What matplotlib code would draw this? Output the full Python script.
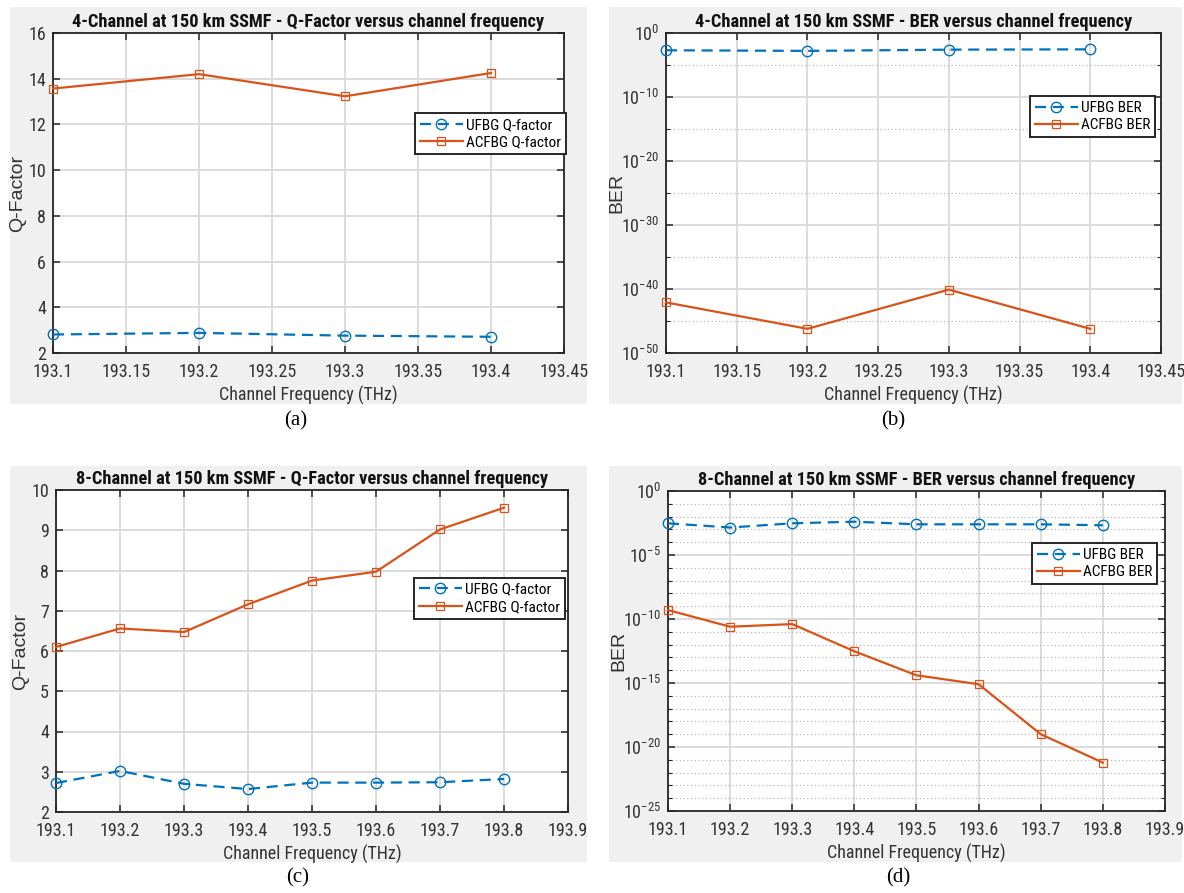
import matplotlib
matplotlib.use("Agg")
import matplotlib.pyplot as plt
from matplotlib import font_manager as fm
from matplotlib.patches import Rectangle
from matplotlib.textpath import TextToPath
from matplotlib.ticker import FixedLocator, NullFormatter, FixedFormatter


# ---------------------------------------------------------------------------
# Data
# ---------------------------------------------------------------------------

freq_4ch = [193.1, 193.2, 193.3, 193.4]
q_ufbg_4ch = [2.81, 2.88, 2.76, 2.71]
q_acfbg_4ch = [13.57, 14.20, 13.23, 14.25]
ber_ufbg_4ch = [2.0e-3, 1.6e-3, 2.5e-3, 2.8e-3]
ber_acfbg_4ch = [8e-43, 6e-47, 8e-41, 6e-47]

freq_8ch = [193.1, 193.2, 193.3, 193.4, 193.5, 193.6, 193.7, 193.8]
q_ufbg_8ch = [2.72, 3.02, 2.70, 2.57, 2.73, 2.73, 2.74, 2.82]
q_acfbg_8ch = [6.10, 6.56, 6.47, 7.16, 7.75, 7.97, 9.02, 9.56]
ber_ufbg_8ch = [3.0e-3, 1.4e-3, 3.0e-3, 4.0e-3, 2.5e-3, 2.5e-3, 2.5e-3, 2.1e-3]
ber_acfbg_8ch = [5e-10, 2.5e-11, 4e-11, 3e-13, 4e-15, 8e-16, 1e-19, 6e-22]

xticks_4ch = [193.1, 193.15, 193.2, 193.25, 193.3, 193.35, 193.4, 193.45]
xticks_8ch = [193.1, 193.2, 193.3, 193.4, 193.5, 193.6, 193.7, 193.8, 193.9]
qticks_4ch = [2, 4, 6, 8, 10, 12, 14, 16]
qticks_8ch = [2, 3, 4, 5, 6, 7, 8, 9, 10]
ber_exp_4ch = [0, -10, -20, -30, -40, -50]
ber_exp_8ch = [0, -5, -10, -15, -20, -25]

titles = [
    "4-Channel at 150 km SSMF - Q-Factor versus channel frequency",
    "4-Channel at 150 km SSMF - BER versus channel frequency",
    "8-Channel at 150 km SSMF - Q-Factor versus channel frequency",
    "8-Channel at 150 km SSMF - BER versus channel frequency",
]
captions = ["(a)", "(b)", "(c)", "(d)"]


# ---------------------------------------------------------------------------
# Fonts: the reference text is narrow (MATLAB export squeezed sideways), so a
# condensed face is used and sized so its widths match a plain Arial layout.
# ---------------------------------------------------------------------------

def _pick_font(candidates):
    for name in candidates:
        try:
            fm.findfont(fm.FontProperties(family=name), fallback_to_default=False)
            return name
        except ValueError:
            pass
    return "DejaVu Sans"


SANS = _pick_font(["Liberation Sans", "Arial"])
NARROW = _pick_font(["Liberation Sans Narrow", "Arimo Narrow", "Roboto Condensed",
                     "Archivo Narrow", "PT Sans Narrow", "Liberation Sans"])
SERIF = _pick_font(["Liberation Serif", "DejaVu Serif"])

_t2p = TextToPath()


def _width_ratio(sample, weight="normal"):
    ref = fm.FontProperties(family=SANS, weight=weight, size=10)
    new = fm.FontProperties(family=NARROW, weight=weight, size=10)
    w_ref = _t2p.get_text_width_height_descent(sample, ref, ismath=False)[0]
    w_new = _t2p.get_text_width_height_descent(sample, new, ismath=False)[0]
    return w_new / w_ref


R_REG = _width_ratio("Channel Frequency (THz) 193.15 UFBG Q-factor")
R_BOLD = _width_ratio(titles[0], weight="bold")

TITLE_SIZE = 11.2 / R_BOLD
TICK_SIZE = 11.2 / R_REG
XLABEL_SIZE = 11.2 / R_REG
LEGEND_SIZE = 9.5 / R_REG

plt.rcParams["font.family"] = [NARROW, "DejaVu Sans"]
plt.rcParams["mathtext.fontset"] = "custom"
plt.rcParams["mathtext.rm"] = NARROW
plt.rcParams["mathtext.it"] = NARROW + ":italic"
plt.rcParams["mathtext.bf"] = NARROW + ":bold"

BLUE = "#0072BD"
ORANGE = "#D95319"
DARK = "#262626"
PANEL_BG = "#f0f0f0"

W, H = 1184, 893
fig = plt.figure(figsize=(W / 100, H / 100), dpi=100)


def _rect(left, top, right, bottom):
    return [left / W, 1 - bottom / H, (right - left) / W, (bottom - top) / H]


def _panel_bg(left, top, right, bottom):
    fig.patches.append(Rectangle((left / W, 1 - bottom / H),
                                 (right - left) / W, (bottom - top) / H,
                                 transform=fig.transFigure, facecolor=PANEL_BG,
                                 edgecolor="none", zorder=-10))


def _style_axes(ax, title, xlabel, ylabel, ylab_x):
    for sp in ax.spines.values():
        sp.set_color(DARK)
        sp.set_linewidth(1.3)
    ax.set_facecolor("white")
    ax.tick_params(which="both", direction="in", top=True, right=True,
                   colors=DARK, labelcolor="#333333")
    ax.tick_params(which="major", length=5, width=1.1, labelsize=TICK_SIZE, pad=7)
    ax.tick_params(axis="y", which="major", pad=5)
    ax.tick_params(which="minor", length=3, width=0.8)
    ax.grid(True, which="major", color="#dcdcdc", linewidth=1.4)
    ax.set_axisbelow(True)
    ax.set_title(title, fontsize=TITLE_SIZE, fontweight="bold",
                 color="#111111", pad=4)
    ax.set_xlabel(xlabel, fontsize=XLABEL_SIZE, color="#333333", labelpad=4)
    ax.set_ylabel(ylabel, fontsize=14, color="#333333", family=[SANS])
    ax.yaxis.set_label_coords(ylab_x, 0.5)


def _plot_pair(ax, x, y1, y2, lab1, lab2, legend_anchor):
    ax.plot(x, y1, color=BLUE, linestyle=(0, (5, 3)), linewidth=1.6,
            marker="o", markersize=7.5, markerfacecolor="none",
            markeredgewidth=1.0, clip_on=False, zorder=3, label=lab1)
    ax.plot(x, y2, color=ORANGE, linestyle="-", linewidth=1.6,
            marker="s", markersize=5.5, markerfacecolor="none",
            markeredgewidth=0.9, clip_on=False, zorder=3, label=lab2)
    leg = ax.legend(loc="upper right", bbox_to_anchor=legend_anchor,
                    fontsize=LEGEND_SIZE, fancybox=False, framealpha=1.0,
                    edgecolor=DARK, handlelength=2.8, handletextpad=0.2,
                    borderpad=0.32, labelspacing=0.22, borderaxespad=0.0)
    leg.get_frame().set_linewidth(1.4)
    return leg


def _log_ticks(ax, exps, minor_exps):
    ax.set_yscale("log")
    ax.yaxis.set_major_locator(FixedLocator([10.0 ** e for e in exps]))
    ax.yaxis.set_major_formatter(FixedFormatter(
        [r"$\mathregular{10^{%d}}$" % e for e in exps]))
    ax.yaxis.set_minor_locator(FixedLocator([10.0 ** e for e in minor_exps]))
    ax.yaxis.set_minor_formatter(NullFormatter())
    ax.grid(True, which="minor", axis="y", color="#b8b8b8",
            linestyle=(0, (1, 2)), linewidth=0.9)


# ---------------------------------------------------------------------------
# Panel backgrounds (MATLAB figure grey)
# ---------------------------------------------------------------------------
_panel_bg(10, 7, 587, 404)
_panel_bg(609, 7, 1182, 404)
_panel_bg(10, 466, 587, 862)
_panel_bg(609, 466, 1182, 862)

xlab = "Channel Frequency (THz)"

# (a) 4-channel Q-factor
ax_a = fig.add_axes(_rect(53, 33, 564, 353))
_plot_pair(ax_a, freq_4ch, q_ufbg_4ch, q_acfbg_4ch,
           "UFBG Q-factor", "ACFBG Q-factor", (1.003, 0.75))
ax_a.set_xlim(193.1, 193.45)
ax_a.set_ylim(2, 16)
ax_a.set_xticks(xticks_4ch)
ax_a.set_xticklabels([f"{v:g}" for v in xticks_4ch])
ax_a.set_yticks(qticks_4ch)
_style_axes(ax_a, titles[0], xlab, "Q-Factor", -0.052)

# (b) 4-channel BER
ax_b = fig.add_axes(_rect(666, 33, 1161, 353))
_plot_pair(ax_b, freq_4ch, ber_ufbg_4ch, ber_acfbg_4ch,
           "UFBG BER", "ACFBG BER", (0.988, 0.803))
ax_b.set_xlim(193.1, 193.45)
ax_b.set_ylim(1e-50, 1)
_log_ticks(ax_b, ber_exp_4ch, [-5, -15, -25, -35, -45])
ax_b.set_xticks(xticks_4ch)
ax_b.set_xticklabels([f"{v:g}" for v in xticks_4ch])
_style_axes(ax_b, titles[1], xlab, "BER", -0.083)

# (c) 8-channel Q-factor
ax_c = fig.add_axes(_rect(56, 490, 568, 812))
_plot_pair(ax_c, freq_8ch, q_ufbg_8ch, q_acfbg_8ch,
           "UFBG Q-factor", "ACFBG Q-factor", (0.994, 0.727))
ax_c.set_xlim(193.1, 193.9)
ax_c.set_ylim(2, 10)
ax_c.set_xticks(xticks_8ch)
ax_c.set_xticklabels([f"{v:g}" for v in xticks_8ch])
ax_c.set_yticks(qticks_8ch)
_style_axes(ax_c, titles[2], xlab, "Q-Factor", -0.052)

# (d) 8-channel BER
ax_d = fig.add_axes(_rect(668, 491, 1165, 811))
_plot_pair(ax_d, freq_8ch, ber_ufbg_8ch, ber_acfbg_8ch,
           "UFBG BER", "ACFBG BER", (0.984, 0.8375))
ax_d.set_xlim(193.1, 193.9)
ax_d.set_ylim(1e-25, 1)
_log_ticks(ax_d, ber_exp_8ch,
           [e for e in range(-24, 0) if e % 5 != 0])
ax_d.set_xticks(xticks_8ch)
ax_d.set_xticklabels([f"{v:g}" for v in xticks_8ch])
_style_axes(ax_d, titles[3], xlab, "BER", -0.082)

# Sub-figure captions
for (cx, cy), cap in zip([(296, 421), (893, 421), (298, 878), (898, 878)],
                         captions):
    fig.text(cx / W, 1 - cy / H, cap, ha="center", va="center",
             fontsize=15, family=[SERIF], color="black")

fig.savefig("out.png", dpi=100, facecolor="white")
